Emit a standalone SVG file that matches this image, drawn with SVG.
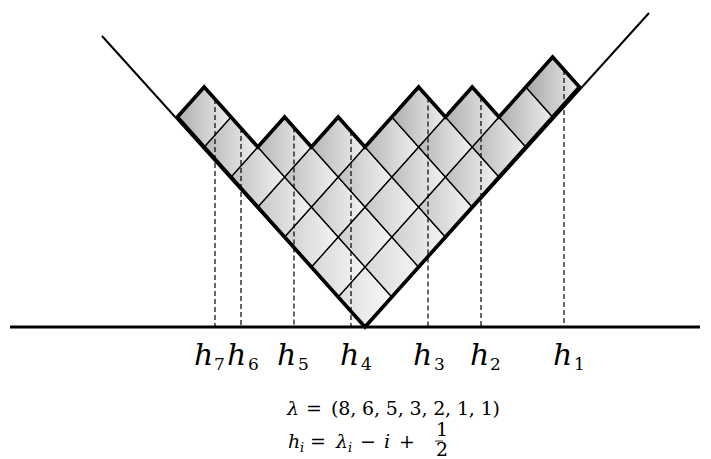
<svg xmlns="http://www.w3.org/2000/svg" xmlns:xlink="http://www.w3.org/1999/xlink" width="711" height="459" viewBox="0 0 711 459">
<style>
.cell{stroke:#000;stroke-width:1.3;stroke-linejoin:miter}
.dash{stroke:#000;stroke-width:1.2;stroke-dasharray:5 3;fill:none}
.ray{stroke:#000;stroke-width:2;fill:none}
.outline{stroke:#000;stroke-width:3.6;fill:none;stroke-linejoin:miter;stroke-miterlimit:10}
.base{stroke:#000;stroke-width:3}
text{font-family:'DejaVu Serif',serif;fill:#000}
.lab{font-style:italic;font-size:30px}
.sub{font-style:normal;font-size:17px}
.eq{font-size:19px}
.it{font-style:italic}
</style>
<defs>
<polygon id="cell" points="0,-30 26.8,0 0,30 -26.8,0"/>
<linearGradient id="g1" x1="0" y1="0" x2="1" y2="0"><stop offset="0" stop-color="#dedede"/><stop offset="1" stop-color="#f8f8f8"/></linearGradient>
<linearGradient id="g2" x1="0" y1="0" x2="1" y2="0"><stop offset="0" stop-color="#d6d6d6"/><stop offset="1" stop-color="#f6f6f6"/></linearGradient>
<linearGradient id="g3" x1="0" y1="0" x2="1" y2="0"><stop offset="0" stop-color="#cecece"/><stop offset="1" stop-color="#f5f5f5"/></linearGradient>
<linearGradient id="g4" x1="0" y1="0" x2="1" y2="0"><stop offset="0" stop-color="#c6c6c6"/><stop offset="1" stop-color="#f4f4f4"/></linearGradient>
<linearGradient id="g5" x1="0" y1="0" x2="1" y2="0"><stop offset="0" stop-color="#bebebe"/><stop offset="1" stop-color="#f2f2f2"/></linearGradient>
<linearGradient id="g6" x1="0" y1="0" x2="1" y2="0"><stop offset="0" stop-color="#b6b6b6"/><stop offset="1" stop-color="#f0f0f0"/></linearGradient>
<linearGradient id="g7" x1="0" y1="0" x2="1" y2="0"><stop offset="0" stop-color="#aeaeae"/><stop offset="1" stop-color="#eeeeee"/></linearGradient>
<linearGradient id="g8" x1="0" y1="0" x2="1" y2="0"><stop offset="0" stop-color="#a6a6a6"/><stop offset="1" stop-color="#ececec"/></linearGradient>
</defs>
<rect width="711" height="459" fill="#fff"/>
<g id="cells">
<g id="row1">
<use href="#cell" x="365" y="297" class="cell" fill="url(#g1)"/>
<use href="#cell" x="391.8" y="267" class="cell" fill="url(#g2)"/>
<use href="#cell" x="418.6" y="237" class="cell" fill="url(#g3)"/>
<use href="#cell" x="445.4" y="207" class="cell" fill="url(#g4)"/>
<use href="#cell" x="472.2" y="177" class="cell" fill="url(#g5)"/>
<use href="#cell" x="499" y="147" class="cell" fill="url(#g6)"/>
<use href="#cell" x="525.8" y="117" class="cell" fill="url(#g7)"/>
<use href="#cell" x="552.6" y="87" class="cell" fill="url(#g8)"/>
</g>
<g id="row2">
<use href="#cell" x="338.2" y="267" class="cell" fill="url(#g2)"/>
<use href="#cell" x="365" y="237" class="cell" fill="url(#g3)"/>
<use href="#cell" x="391.8" y="207" class="cell" fill="url(#g4)"/>
<use href="#cell" x="418.6" y="177" class="cell" fill="url(#g5)"/>
<use href="#cell" x="445.4" y="147" class="cell" fill="url(#g6)"/>
<use href="#cell" x="472.2" y="117" class="cell" fill="url(#g7)"/>
</g>
<g id="row3">
<use href="#cell" x="311.4" y="237" class="cell" fill="url(#g3)"/>
<use href="#cell" x="338.2" y="207" class="cell" fill="url(#g4)"/>
<use href="#cell" x="365" y="177" class="cell" fill="url(#g5)"/>
<use href="#cell" x="391.8" y="147" class="cell" fill="url(#g6)"/>
<use href="#cell" x="418.6" y="117" class="cell" fill="url(#g7)"/>
</g>
<g id="row4">
<use href="#cell" x="284.6" y="207" class="cell" fill="url(#g4)"/>
<use href="#cell" x="311.4" y="177" class="cell" fill="url(#g5)"/>
<use href="#cell" x="338.2" y="147" class="cell" fill="url(#g6)"/>
</g>
<g id="row5">
<use href="#cell" x="257.8" y="177" class="cell" fill="url(#g5)"/>
<use href="#cell" x="284.6" y="147" class="cell" fill="url(#g6)"/>
</g>
<g id="row6">
<use href="#cell" x="231" y="147" class="cell" fill="url(#g6)"/>
</g>
<g id="row7">
<use href="#cell" x="204.2" y="117" class="cell" fill="url(#g7)"/>
</g>
</g>
<g id="connectors">
<line class="dash" x1="215" y1="99" x2="215" y2="327"/>
<line class="dash" x1="241" y1="128" x2="241" y2="327"/>
<line class="dash" x1="294" y1="127.5" x2="294" y2="327"/>
<line class="dash" x1="351" y1="131" x2="351" y2="327"/>
<line class="dash" x1="428" y1="97.5" x2="428" y2="327"/>
<line class="dash" x1="481" y1="97" x2="481" y2="327"/>
<line class="dash" x1="564" y1="70" x2="564" y2="327"/>
<line class="ray" x1="365" y1="327" x2="102" y2="36"/>
<line class="ray" x1="365" y1="327" x2="649" y2="13"/>
<polygon class="outline" points="177.4,117 204.2,87 231,117 257.8,147 284.6,117 311.4,147 338.2,117 365,147 418.6,87 445.4,117 472.2,87 499,117 552.6,57 579.4,87 365,327"/>
<line class="base" x1="10" y1="327" x2="700" y2="327"/>
</g>
<g id="labels">
<text class="lab" font-family="DejaVu Serif, serif" x="194" y="365">h<tspan class="sub" x="214" y="370">7</tspan></text>
<text class="lab" font-family="DejaVu Serif, serif" x="227" y="365">h<tspan class="sub" x="248" y="370">6</tspan></text>
<text class="lab" font-family="DejaVu Serif, serif" x="277" y="365">h<tspan class="sub" x="298" y="370">5</tspan></text>
<text class="lab" font-family="DejaVu Serif, serif" x="340" y="365">h<tspan class="sub" x="361" y="370">4</tspan></text>
<text class="lab" font-family="DejaVu Serif, serif" x="413" y="365">h<tspan class="sub" x="434" y="370">3</tspan></text>
<text class="lab" font-family="DejaVu Serif, serif" x="470" y="365">h<tspan class="sub" x="490" y="370">2</tspan></text>
<text class="lab" font-family="DejaVu Serif, serif" x="553" y="365">h<tspan class="sub" x="574" y="370">1</tspan></text>
</g>
<g id="formulas">
<text class="eq" font-family="DejaVu Serif, serif" y="415"><tspan class="it" x="287">λ</tspan><tspan x="306">=</tspan></text>
<text class="eq" font-family="DejaVu Serif, serif" x="331" y="415" textLength="169" lengthAdjust="spacing">(8, 6, 5, 3, 2, 1, 1)</text>
<text class="eq" font-family="DejaVu Serif, serif" y="448"><tspan class="it" x="288">h</tspan><tspan class="it" x="300" y="452" font-size="13">i</tspan><tspan x="310" y="448">=</tspan><tspan class="it" x="336">λ</tspan><tspan class="it" x="348" y="452" font-size="13">i</tspan><tspan x="360" y="448">−</tspan><tspan class="it" x="384">i</tspan><tspan x="399">+</tspan></text>
<text class="eq" font-family="DejaVu Serif, serif" x="436" y="436" font-size="10">1</text>
<line x1="435" y1="441" x2="443" y2="441" stroke="#000" stroke-width="0.8"/>
<text class="eq" font-family="DejaVu Serif, serif" x="436" y="456" font-size="10">2</text>
</g>
</svg>
